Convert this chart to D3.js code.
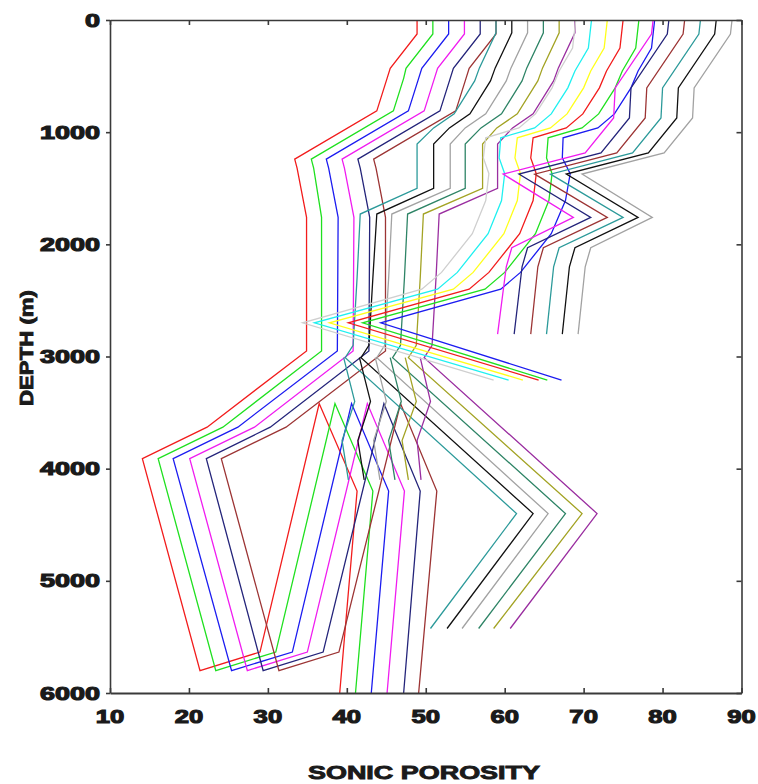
<!DOCTYPE html>
<html>
<head>
<meta charset="utf-8">
<script src="https://cdn.jsdelivr.net/npm/d3@7/dist/d3.min.js"></script>
<style>
    body { margin: 0; background: #ffffff; }
</style>
</head>
<body>
<div id="canvas"></div>
<script>
"use strict"

/* axis ticks */
let porosityTicks = [10, 20, 30, 40, 50, 60, 70, 80, 90];
let depthTicks = [0, 1000, 2000, 3000, 4000, 5000, 6000];

/* group A: six curves running over the whole depth range */
let depthA = [0, 125, 430, 520, 810, 1240, 1320, 1760, 2950, 3630, 3910, 5800, 5635, 3420, 4200, 6000];
let redA = [48.9, 48.9, 45.5, 45.1, 43.8, 33.4, 33.7, 34.9, 34.9, 22.3, 14.1, 21.4, 29.0, 36.5, 41.3, 39.1];
let greenA = [50.9, 50.9, 47.5, 47.2, 45.9, 35.5, 35.8, 36.8, 36.8, 24.3, 16.1, 23.4, 31.0, 38.5, 43.3, 41.1];
let blueA = [52.9, 52.9, 49.5, 49.1, 47.8, 37.4, 37.7, 38.9, 38.8, 26.2, 18.0, 25.4, 33.1, 40.6, 45.3, 43.1];
let magentaA = [54.9, 54.9, 51.5, 51.1, 49.8, 39.4, 39.7, 40.9, 40.8, 28.3, 20.1, 27.4, 35.0, 42.6, 47.3, 45.1];
let navyA = [56.9, 56.9, 53.5, 53.1, 51.8, 41.4, 41.7, 42.9, 42.8, 30.3, 22.2, 29.4, 37.0, 44.7, 49.3, 47.2];
let brownA = [58.9, 58.9, 55.5, 55.1, 53.8, 43.4, 43.7, 44.9, 44.9, 32.3, 24.1, 31.4, 39.0, 46.8, 51.4, 49.1];

/* group B: step near 1100-1500 m, then the big bend to the right at 4400 m */
let depthB = [0, 115, 427, 543, 837, 962, 1105, 1500, 1730, 2300, 2900, 3010, 4400, 5425];
let tealB = [58.9, 58.9, 56.8, 56.2, 53.6, 51.0, 48.9, 48.9, 41.7, 41.3, 40.8, 39.8, 61.5, 50.6];
let blackB = [60.9, 60.9, 58.8, 58.2, 55.6, 53.0, 51.0, 51.0, 43.8, 43.3, 42.8, 41.8, 63.6, 52.7];
let grayB = [62.9, 62.9, 60.8, 60.2, 57.6, 55.0, 53.1, 53.1, 45.7, 45.3, 44.8, 43.8, 65.5, 54.6];
let seaB = [64.9, 64.9, 62.8, 62.2, 59.6, 57.0, 55.0, 55.0, 47.7, 47.3, 46.8, 45.8, 67.7, 56.7];
let oliveB = [66.9, 66.9, 64.8, 64.2, 61.6, 59.0, 57.2, 57.2, 49.7, 49.3, 48.8, 47.8, 69.8, 58.6];
let purpleB = [68.9, 68.9, 66.8, 66.2, 63.6, 61.0, 59.1, 59.1, 51.7, 51.3, 50.8, 49.8, 71.7, 60.7];

/* group C: curves turning back at 2700 m and ending near 3200 m */
let depthC = [0, 250, 455, 605, 837, 962, 1050, 1230, 1370, 1610, 1905, 2250, 2400, 2700, 3210];
let silverC = [69.0, 68.6, 66.9, 66.0, 63.9, 61.8, 57.6, 57.3, 58.0, 57.6, 55.9, 52.0, 49.5, 34.4, 58.6];
let cyanC = [71.0, 70.6, 68.9, 68.0, 65.9, 63.8, 59.5, 59.3, 60.0, 59.6, 57.9, 54.0, 51.5, 35.9, 60.5];
let yellowC = [73.0, 72.6, 70.9, 70.0, 67.9, 65.8, 61.6, 61.3, 62.0, 61.6, 59.9, 56.0, 53.5, 37.8, 62.3];
let redC = [75.0, 74.6, 72.9, 72.0, 69.9, 67.8, 63.6, 63.3, 64.0, 63.6, 61.9, 58.0, 55.5, 40.2, 64.3];
let greenC = [77.0, 76.6, 74.9, 74.0, 71.9, 69.8, 65.5, 65.3, 66.0, 65.6, 63.9, 60.0, 57.5, 42.0, 65.4];
let blueC = [79.0, 78.6, 76.9, 76.0, 73.9, 71.8, 67.4, 67.3, 68.3, 67.7, 65.9, 62.0, 59.5, 44.3, 67.2];

/* group D: right hand curves with the spike at 1760 m, ending at 2800 m */
let depthD = [0, 125, 605, 873, 1185, 1374, 1760, 2030, 2200, 2800];
let magentaD = [78.8, 78.6, 74.0, 73.8, 70.2, 59.8, 68.7, 60.9, 60.2, 59.1];
let navyD = [80.8, 80.6, 76.0, 75.8, 72.2, 61.8, 70.9, 62.9, 62.2, 61.2];
let brownD = [82.8, 82.6, 78.0, 77.8, 74.2, 63.8, 73.0, 64.9, 64.2, 63.3];
let tealD = [84.8, 84.6, 80.0, 79.8, 76.2, 65.8, 75.0, 66.9, 66.2, 65.3];
let blackD = [86.8, 86.6, 82.0, 81.8, 78.2, 67.8, 76.9, 68.9, 68.2, 67.3];
let grayD = [88.8, 88.6, 84.0, 83.8, 80.2, 69.8, 78.7, 70.9, 70.2, 69.3];

/* group E: short pieces between 3000 and 4100 m */
let depthE = [3010, 3400, 3750, 4100];
let tealE = [39.6, 41.0, 39.4, 40.2];
let blackE = [41.6, 43.0, 41.4, 42.2];
let grayE = [43.6, 45.0, 43.4, 44.2];
let seaE = [45.5, 46.9, 45.3, 46.1];
let oliveE = [47.4, 48.8, 47.0, 47.8];
let purpleE = [49.3, 50.6, 48.9, 49.4];

/* line colours */
let cRed = "#f21c1c", cGreen = "#1fe01f", cBlue = "#1c1cf0", cMagenta = "#f01cf0",
    cNavy = "#24247a", cBrown = "#9c3434", cTeal = "#2c9a9a", cBlack = "#111111",
    cGray = "#a2a2a2", cSea = "#2e8466", cOlive = "#a3a324", cPurple = "#9a2ea0",
    cSilver = "#cfcfcf", cCyan = "#1ff0f0", cYellow = "#ffff1a";

let curves = [
    [depthA, redA, cRed], [depthA, greenA, cGreen], [depthA, blueA, cBlue],
    [depthA, magentaA, cMagenta], [depthA, navyA, cNavy], [depthA, brownA, cBrown],
    [depthB, tealB, cTeal], [depthB, blackB, cBlack], [depthB, grayB, cGray],
    [depthB, seaB, cSea], [depthB, oliveB, cOlive], [depthB, purpleB, cPurple],
    [depthE, tealE, cTeal], [depthE, blackE, cBlack], [depthE, grayE, cGray],
    [depthE, seaE, cSea], [depthE, oliveE, cOlive], [depthE, purpleE, cPurple],
    [depthC, silverC, cSilver], [depthC, cyanC, cCyan], [depthC, yellowC, cYellow],
    [depthC, redC, cRed], [depthC, greenC, cGreen], [depthC, blueC, cBlue],
    [depthD, magentaD, cMagenta], [depthD, navyD, cNavy], [depthD, brownD, cBrown],
    [depthD, tealD, cTeal], [depthD, blackD, cBlack], [depthD, grayD, cGray]
];

/* set up the drawing canvas */
let drawing = d3.select("#canvas")
    .append("svg")
    .attr("width", 758)
    .attr("height", 784);

let x = d3.scaleLinear().domain([10, 90]).range([110, 741.5]);
let y = d3.scaleLinear().domain([0, 6000]).range([20, 693]);

drawing.append("clipPath")
    .attr("id", "plotClip")
    .append("rect")
    .attr("x", 110)
    .attr("y", 20)
    .attr("width", 631.5)
    .attr("height", 673);

let line = d3.line()
    .x(p => x(p[1]))
    .y(p => y(p[0]));

let plot = drawing.append("g").attr("clip-path", "url(#plotClip)");

curves.forEach(function (c) {
    let pts = c[0].map((d, i) => [d, c[1][i]]);
    plot.append("path")
        .attr("d", line(pts))
        .attr("fill", "none")
        .attr("stroke", c[2])
        .attr("stroke-width", 1.3)
        .attr("stroke-linejoin", "miter");
});

/* frame with ticks */
let axisColor = "#3a3a3a";

let bottomAxis = drawing.append("g")
    .attr("transform", "translate(0,693)")
    .call(d3.axisBottom(x).tickValues(porosityTicks).tickSize(-5).tickSizeOuter(0).tickFormat(""));
let topAxis = drawing.append("g")
    .attr("transform", "translate(0,20)")
    .call(d3.axisTop(x).tickValues(porosityTicks).tickSize(-5).tickSizeOuter(0).tickFormat(""));
let leftAxis = drawing.append("g")
    .attr("transform", "translate(110,0)")
    .call(d3.axisLeft(y).tickValues(depthTicks).tickSize(4).tickSizeOuter(0).tickFormat(""));
let rightAxis = drawing.append("g")
    .attr("transform", "translate(741.5,0)")
    .call(d3.axisRight(y).tickValues(depthTicks).tickSize(-5).tickSizeOuter(0).tickFormat(""));

[bottomAxis, topAxis, leftAxis, rightAxis].forEach(function (a) {
    a.selectAll("path").attr("stroke", axisColor).attr("stroke-width", 1.6);
    a.selectAll("line").attr("stroke", axisColor).attr("stroke-width", 1.6);
});
bottomAxis.select("path").attr("stroke-width", 2.2);

/* tick labels, drawn wide and heavy like the original */
let labelFont = "'Liberation Sans', Arial, sans-serif";

drawing.append("g")
    .selectAll("text")
    .data(porosityTicks)
    .enter()
    .append("text")
    .attr("transform", d => "translate(" + x(d) + ",723) scale(1.35,1)")
    .attr("text-anchor", "middle")
    .attr("font-family", labelFont)
    .attr("font-weight", "bold")
    .attr("font-size", 19)
    .attr("fill", "#1a1a1a")
    .attr("stroke", "#1a1a1a")
    .attr("stroke-width", 1.1)
    .text(d => d);

drawing.append("g")
    .selectAll("text")
    .data(depthTicks)
    .enter()
    .append("text")
    .attr("transform", d => "translate(100," + (y(d) + 6.5) + ") scale(1.5,1)")
    .attr("text-anchor", "end")
    .attr("font-family", labelFont)
    .attr("font-weight", "bold")
    .attr("font-size", 18)
    .attr("fill", "#1a1a1a")
    .attr("stroke", "#1a1a1a")
    .attr("stroke-width", 1.1)
    .text(d => d);

/* axis titles */
drawing.append("text")
    .attr("x", 424)
    .attr("y", 779)
    .attr("text-anchor", "middle")
    .attr("font-family", labelFont)
    .attr("font-weight", "bold")
    .attr("font-size", 19)
    .attr("textLength", 232)
    .attr("lengthAdjust", "spacingAndGlyphs")
    .attr("fill", "#1a1a1a")
    .attr("stroke", "#1a1a1a")
    .attr("stroke-width", 0.9)
    .text("SONIC POROSITY");

drawing.append("text")
    .attr("transform", "translate(33,348) rotate(-90)")
    .attr("text-anchor", "middle")
    .attr("font-family", labelFont)
    .attr("font-weight", "bold")
    .attr("font-size", 19)
    .attr("textLength", 116)
    .attr("lengthAdjust", "spacingAndGlyphs")
    .attr("fill", "#1a1a1a")
    .attr("stroke", "#1a1a1a")
    .attr("stroke-width", 0.9)
    .text("DEPTH (m)");
</script>
</body>
</html>
